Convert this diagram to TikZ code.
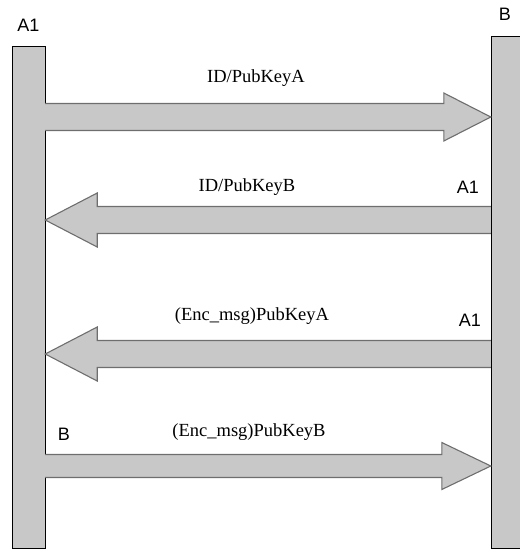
\documentclass[tikz,border=0pt]{standalone}
\usepackage{fontspec}
\setmainfont{Liberation Serif}
\newfontfamily\sansf{Liberation Sans}
\usetikzlibrary{positioning,calc}
\definecolor{barfill}{HTML}{C8C8C8}
\definecolor{msgline}{HTML}{6E6E6E}
\tikzset{
	% lifeline of a party
	bar/.style={
		rectangle,
		draw=black, thin,
		fill=barfill,
		minimum width=33pt,
		inner sep=0pt},
	% block arrow between the bars
	msg/.style={
		draw=msgline,
		line width=1.1pt,
		fill=barfill,
		line join=miter},
	% text above an arrow
	msglbl/.style={
		font=\fontsize{18.5}{20}\selectfont,
		inner sep=0pt},
	% name of a party
	who/.style={
		font=\sansf\fontsize{18}{20}\selectfont,
		inner sep=0pt}
}

\begin{document}
\begin{tikzpicture}[x=1pt,y=-1pt]
	\useasboundingbox (0,0) rectangle (520,550);
	
	\node[bar,minimum height=502pt] (alice) at (28.5,297) {};
	\node[bar,minimum height=512pt] (bob) at (507.5,292) {};
	\node[who, above = 14pt of alice] (alicename) {A1};
	\node[who, above = 15pt of bob, xshift=-2.5pt] (bobname) {B};
	
	% ends of the four messages
	\coordinate (m1s) at (alice.east |- 0,117);
	\coordinate (m1e) at (bob.west |- 0,117);
	\coordinate (m2s) at (bob.west |- 0,220);
	\coordinate (m2e) at (alice.east |- 0,220);
	\coordinate (m3s) at (bob.west |- 0,354);
	\coordinate (m3e) at (alice.east |- 0,354);
	\coordinate (m4s) at (alice.east |- 0,466);
	\coordinate (m4e) at (bob.west |- 0,466);
	
	% A1 -> B
	\draw[msg] ([yshift=13.5pt]m1s) -- ([xshift=-47pt,yshift=13.5pt]m1e) -- ([xshift=-47pt,yshift=24pt]m1e)
	-- (m1e) -- ([xshift=-47pt,yshift=-24pt]m1e) -- ([xshift=-47pt,yshift=-13.5pt]m1e) -- ([yshift=-13.5pt]m1s);
	% B -> A1
	\draw[msg] ([yshift=13.5pt]m2s) -- ([xshift=52pt,yshift=13.5pt]m2e) -- ([xshift=52pt,yshift=27pt]m2e)
	-- (m2e) -- ([xshift=52pt,yshift=-27pt]m2e) -- ([xshift=52pt,yshift=-13.5pt]m2e) -- ([yshift=-13.5pt]m2s);
	% B -> A1
	\draw[msg] ([yshift=13.5pt]m3s) -- ([xshift=52pt,yshift=13.5pt]m3e) -- ([xshift=52pt,yshift=27pt]m3e)
	-- (m3e) -- ([xshift=52pt,yshift=-27pt]m3e) -- ([xshift=52pt,yshift=-13.5pt]m3e) -- ([yshift=-13.5pt]m3s);
	% A1 -> B
	\draw[msg] ([yshift=11.5pt]m4s) -- ([xshift=-49pt,yshift=11.5pt]m4e) -- ([xshift=-49pt,yshift=23.5pt]m4e)
	-- (m4e) -- ([xshift=-49pt,yshift=-23.5pt]m4e) -- ([xshift=-49pt,yshift=-11.5pt]m4e) -- ([yshift=-11.5pt]m4s);
	
	\node[msglbl] (lbl1) at (256,78) {ID/PubKeyA};
	\node[msglbl] (lbl2) at (247,187) {ID/PubKeyB};
	\node[msglbl] (lbl3) at (252,316) {(Enc\_msg)PubKeyA};
	\node[msglbl] (lbl4) at (249,432) {(Enc\_msg)PubKeyB};
	
	\node[who] (a1b) at (468,187) {A1};
	\node[who] (a1c) at (470,320) {A1};
	\node[who] (bd) at (64,434) {B};
	
\end{tikzpicture}
\end{document}
